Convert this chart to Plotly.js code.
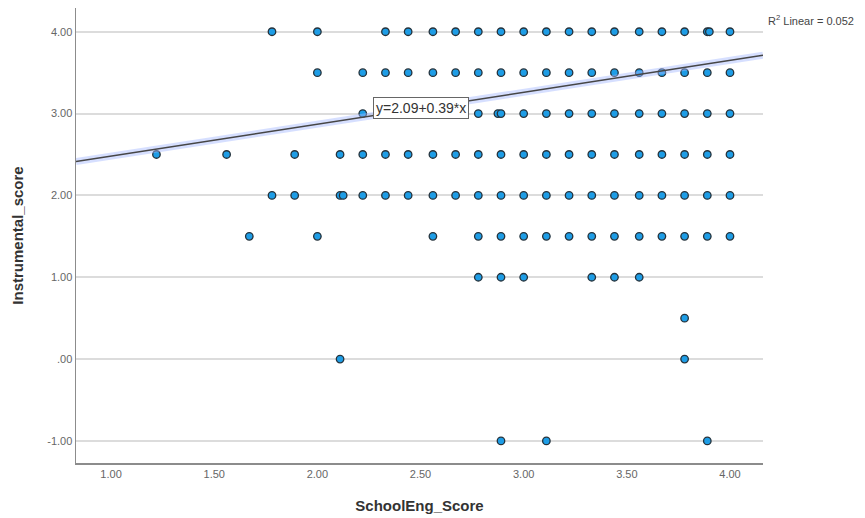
<!DOCTYPE html>
<html>
<head>
<meta charset="utf-8">
<script src="https://cdn.plot.ly/plotly-3.0.1.min.js"></script>
<style>html,body{margin:0;padding:0;background:#fff;}#chart{width:865px;height:518px;}</style>
</head>
<body>
<div id="chart"></div>
<script>
// SchoolEng_Score values observed at each Instrumental_score level
const schoolEng_at_4_0 = [1.78, 2.00, 2.33, 2.44, 2.56, 2.67, 2.78, 2.89, 3.00, 3.11, 3.22, 3.33, 3.44, 3.56, 3.67, 3.78, 3.89, 3.90, 4.00];
const schoolEng_at_3_5 = [2.00, 2.22, 2.33, 2.44, 2.56, 2.67, 2.78, 2.89, 3.00, 3.11, 3.22, 3.33, 3.44, 3.56, 3.67, 3.78, 3.89, 4.00];
const schoolEng_at_3_0 = [2.22, 2.78, 2.875, 2.89, 3.00, 3.11, 3.22, 3.33, 3.44, 3.56, 3.67, 3.78, 3.89, 4.00];
const schoolEng_at_2_5 = [1.22, 1.56, 1.89, 2.11, 2.22, 2.33, 2.44, 2.56, 2.67, 2.78, 2.89, 3.00, 3.11, 3.22, 3.33, 3.44, 3.56, 3.67, 3.78, 3.89, 4.00];
const schoolEng_at_2_0 = [1.78, 1.89, 2.11, 2.125, 2.22, 2.33, 2.44, 2.56, 2.67, 2.78, 2.89, 3.00, 3.11, 3.22, 3.33, 3.44, 3.56, 3.67, 3.78, 3.89, 4.00];
const schoolEng_at_1_5 = [1.67, 2.00, 2.56, 2.78, 2.89, 3.00, 3.11, 3.22, 3.33, 3.44, 3.56, 3.67, 3.78, 3.89, 4.00];
const schoolEng_at_1_0 = [2.78, 2.89, 3.00, 3.33, 3.44, 3.56];
const schoolEng_at_0_5 = [3.78];
const schoolEng_at_0_0 = [2.11, 3.78];
const schoolEng_at_m1_0 = [2.89, 3.11, 3.89];
const instrumentalLevels = [4.0, 3.5, 3.0, 2.5, 2.0, 1.5, 1.0, 0.5, 0.0, -1.0];

// Linear fit reported on the chart
const fitIntercept = 2.09;
const fitSlope = 0.39;
const fitXRange = [0.83, 4.16];
const rSquared = "0.052";

// Axis ticks
const xTickVals = [1.0, 1.5, 2.0, 2.5, 3.0, 3.5, 4.0];
const xTickText = ["1.00", "1.50", "2.00", "2.50", "3.00", "3.50", "4.00"];
const yTickVals = [4, 3, 2, 1, 0, -1];
const yTickText = ["4.00", "3.00", "2.00", "1.00", ".00", "-1.00"];

const rows = [schoolEng_at_4_0, schoolEng_at_3_5, schoolEng_at_3_0, schoolEng_at_2_5, schoolEng_at_2_0,
              schoolEng_at_1_5, schoolEng_at_1_0, schoolEng_at_0_5, schoolEng_at_0_0, schoolEng_at_m1_0];
const xs = [], ys = [];
rows.forEach((r, i) => r.forEach(v => { xs.push(v); ys.push(instrumentalLevels[i]); }));

const fitY = fitXRange.map(x => fitIntercept + fitSlope * x);

const sans = "Liberation Sans, Arial, sans-serif";

const traces = [
  {x: xs, y: ys, type: "scatter", mode: "markers",
   marker: {size: 7.5, color: "#1e9de6", line: {color: "#25323b", width: 1.3}},
   hoverinfo: "x+y", showlegend: false},
  {x: fitXRange, y: fitY, type: "scatter", mode: "lines",
   line: {color: "rgba(165,185,255,0.45)", width: 7}, hoverinfo: "skip", showlegend: false},
  {x: fitXRange, y: fitY, type: "scatter", mode: "lines",
   line: {color: "#464646", width: 1.5}, hoverinfo: "skip", showlegend: false}
];

const layout = {
  width: 865, height: 518,
  margin: {l: 76, r: 102, t: 8, b: 55},
  paper_bgcolor: "#ffffff", plot_bgcolor: "#ffffff",
  showlegend: false,
  xaxis: {
    range: [0.83, 4.16], tickvals: xTickVals, ticktext: xTickText,
    showgrid: false, zeroline: false, showline: true, linecolor: "#8c8c8c", linewidth: 1.5,
    ticks: "", tickfont: {family: sans, size: 11, color: "#666"},
    title: {text: "SchoolEng_Score", font: {family: sans, size: 15, color: "#333", weight: "bold"}, standoff: 22}
  },
  yaxis: {
    range: [-1.27, 4.29], tickvals: yTickVals, ticktext: yTickText,
    showgrid: true, gridcolor: "#dcdcdc", gridwidth: 2, zeroline: false,
    showline: true, linecolor: "#8c8c8c", linewidth: 1.5,
    ticks: "", tickfont: {family: sans, size: 11, color: "#666"},
    title: {text: "Instrumental_score", font: {family: sans, size: 15, color: "#333", weight: "bold"}, standoff: 20}
  },
  annotations: [
    {x: 2.502, y: 3.068, xref: "x", yref: "y", showarrow: false,
     text: "y=2.09+0.39*x", font: {family: sans, size: 14, color: "#333"},
     bgcolor: "#ffffff", bordercolor: "#666", borderwidth: 1, borderpad: 2},
    {x: 1, y: 1, xref: "paper", yref: "paper", xanchor: "left", yanchor: "middle",
     xshift: 3, yshift: -12, showarrow: false,
     text: "R<sup>2</sup> Linear = " + rSquared,
     font: {family: sans, size: 11, color: "#444"}}
  ]
};

Plotly.newPlot("chart", traces, layout, {displayModeBar: false, staticPlot: true});
</script>
</body>
</html>
